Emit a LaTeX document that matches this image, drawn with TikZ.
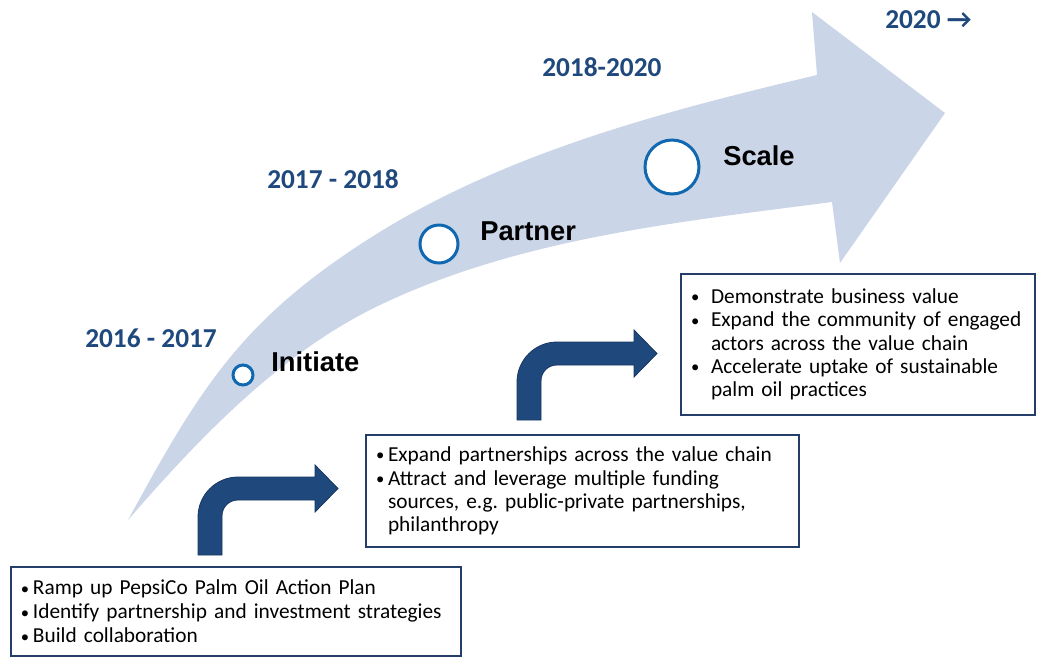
\documentclass[tikz,border=0pt]{standalone}
\usepackage{fontspec}
\setmainfont{Carlito}
\newfontfamily\stagefont{Liberation Sans}
\usetikzlibrary{positioning}
\definecolor{bandblue}{RGB}{202,213,232}
\definecolor{navy}{RGB}{31,73,125}
\definecolor{ringblue}{RGB}{16,104,176}
\definecolor{boxline}{RGB}{36,62,105}
\definecolor{arrowedge}{RGB}{22,54,96}
\newcommand\dotmark{{\fontsize{12.5}{12.5}\selectfont\raisebox{.6pt}{\textbullet}}}
\newcommand\bitem[2][9pt]{\makebox[#1][l]{\dotmark}\mbox{#2}}
\newcommand\contline[2][9pt]{\hspace*{#1}\mbox{#2}}
\newcommand\bentarrow[1]{%
\filldraw[draw=arrowedge,fill=navy,line width=.6pt,shift={#1}] (0,0) -- (0,-38) .. controls (0,-60) and (18,-78) .. (40,-78) -- (117,-78) -- (117,-90) -- (140,-66.5) -- (117,-43) -- (117,-55) -- (40,-55) .. controls (31,-55) and (24,-48) .. (24,-39) -- (24,0) -- cycle;}
\tikzset{
ring/.style={circle,draw=ringblue,fill=white,line width=2.25pt,inner sep=0pt,outer sep=0pt},
stagelbl/.style={inner sep=0pt,font=\stagefont\bfseries\fontsize{20.5}{24}\selectfont},
yearlbl/.style={anchor=base west,inner sep=0pt,text=navy,font=\bfseries\fontsize{20.5}{24}\selectfont},
txtbox/.style={draw=boxline,line width=1.5pt,fill=white,anchor=north west,inner xsep=7.5pt,inner ysep=0pt,align=left,font=\frenchspacing\fontsize{16}{18}\selectfont}
}
\begin{document}
\begin{tikzpicture}[x=0.75pt,y=-0.75pt]
\useasboundingbox (0,0) rectangle (1039,658);
\fill[bandblue] (128,520) .. controls (200,388) and (241,321) .. (367,240) .. controls (501.4,153.6) and (661.8,111.8) .. (817,75) -- (812,12) -- (945,113) -- (840,263) -- (832,202) .. controls (678.5,222) and (519.5,238.3) .. (380,305) .. controls (281,352.3) and (200.6,436.4) .. (128,520) -- cycle;
\node[ring,minimum size=15pt] (c1) at (243,375) {};
\node[ring,minimum size=28.5pt] (c2) at (439,244) {};
\node[ring,minimum size=40.5pt] (c3) at (672,167) {};
\node[stagelbl,right=13.5pt of c1,yshift=9.75pt] (ini) {Initiate};
\node[stagelbl,right=16.5pt of c2,yshift=9.75pt] (par) {Partner};
\node[stagelbl,right=18pt of c3,yshift=8.25pt] (sc) {Scale};
\node[yearlbl] (y1) at (85,347) {2016 - 2017};
\node[yearlbl] (y2) at (267,188) {2017 - 2018};
\node[yearlbl] (y3) at (542,76) {2018-2020};
\node[yearlbl] (y4) at (885,28) {2020 →};
\bentarrow{(198,555)}
\bentarrow{(517,420)}
\node[txtbox,minimum width=337.5pt,minimum height=66.75pt,text width=322.5pt] (b1) at (10,566) {\bitem{Ramp up PepsiCo Palm Oil Action Plan}\\ \bitem{Identify partnership and investment strategies}\\ \bitem{Build collaboration}};
\node[txtbox,minimum width=324.75pt,minimum height=84pt,text width=309.75pt,font=\frenchspacing\fontsize{16}{17.5}\selectfont] (b2) at (365,434) {\bitem{Expand partnerships across the value chain}\\ \bitem{Attract and leverage multiple funding}\\ \contline{sources, e.g. public-private partnerships,}\\ \contline{philanthropy}};
\node[txtbox,minimum width=265.5pt,minimum height=105.75pt,text width=250.5pt,font=\frenchspacing\fontsize{16}{17.5}\selectfont] (b3) at (680,273) {\bitem[15pt]{Demonstrate business value}\\ \bitem[15pt]{Expand the community of engaged}\\ \contline[15pt]{actors across the value chain}\\ \bitem[15pt]{Accelerate uptake of sustainable}\\ \contline[15pt]{palm oil practices}};
\end{tikzpicture}
\end{document}
